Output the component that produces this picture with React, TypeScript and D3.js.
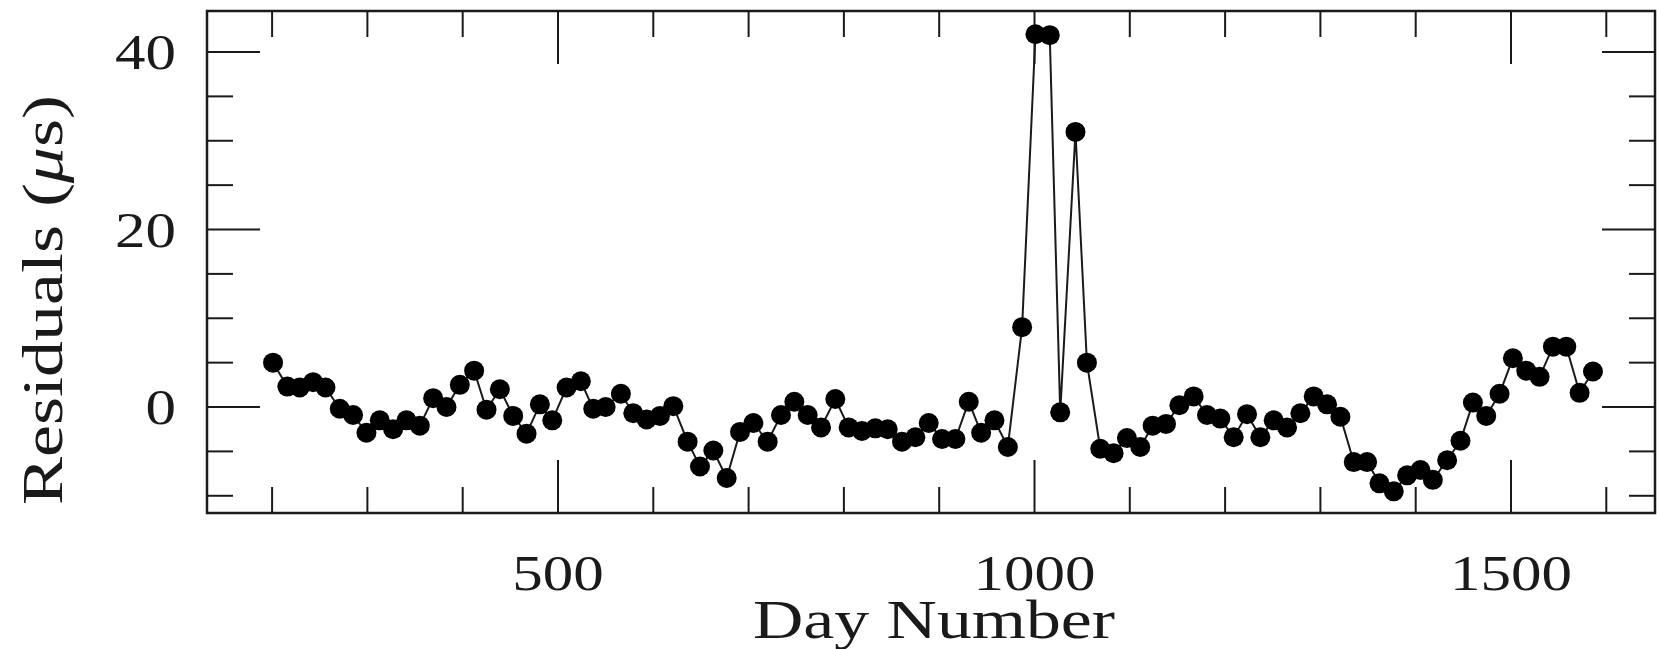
import React from "react";
import * as d3 from "d3";

// Sampled timing residuals: observation day and residual in microseconds
const days: number[] = [
  201, 216, 229, 243, 256, 271, 285, 299, 313, 327,
  341, 355, 369, 383, 397, 412, 425, 439, 453, 467,
  481, 494, 509, 524, 537, 550, 566, 579, 593, 607,
  621, 636, 649, 663, 677, 691, 705, 720, 734, 748,
  762, 776, 791, 805, 819, 833, 846, 861, 875, 889,
  903, 917, 931, 944, 958, 972, 987, 1001, 1016, 1027,
  1043, 1055, 1069, 1083, 1097, 1111, 1124, 1138, 1152, 1167,
  1181, 1195, 1209, 1223, 1237, 1251, 1265, 1279, 1293, 1307,
  1321, 1335, 1349, 1362, 1377, 1391, 1405, 1418, 1433, 1447,
  1460, 1474, 1488, 1502, 1516, 1530, 1544, 1558, 1572, 1586,
];

const residuals: number[] = [
  5.0, 2.3, 2.2, 2.8, 2.2, -0.2, -0.9, -2.9, -1.5, -2.5,
  -1.5, -2.1, 1.0, 0.0, 2.5, 4.1, -0.3, 2.0, -1.0, -3.0,
  0.3, -1.5, 2.2, 2.9, -0.2, 0.0, 1.5, -0.7, -1.4, -1.0,
  0.1, -3.9, -6.7, -4.9, -8.0, -2.8, -1.8, -3.9, -0.9, 0.6,
  -0.9, -2.3, 0.9, -2.3, -2.7, -2.4, -2.5, -3.9, -3.4, -1.8,
  -3.6, -3.6, 0.6, -2.9, -1.5, -4.5, 9.0, 42.0, 41.9, -0.6,
  31.0, 5.0, -4.7, -5.2, -3.5, -4.5, -2.1, -1.9, 0.2, 1.2,
  -0.9, -1.3, -3.4, -0.8, -3.4, -1.5, -2.3, -0.7, 1.2, 0.3,
  -1.1, -6.2, -6.2, -8.6, -9.5, -7.7, -7.1, -8.2, -6.0, -3.8,
  0.5, -1.0, 1.5, 5.5, 4.1, 3.4, 6.8, 6.8, 1.6, 4.0,
];

// Axis ticks
const xMinorTicks: number[] = [200, 300, 400, 500, 600, 700, 800, 900, 1000, 1100, 1200, 1300, 1400, 1500, 1600];
const xMajorTicks: number[] = [500, 1000, 1500];
const yMinorTicks: number[] = [-10, -5, 0, 5, 10, 15, 20, 25, 30, 35, 40];
const yMajorTicks: number[] = [0, 20, 40];

const xTitle = "Day Number";

const W = 1657;
const H = 649;
const plot = { left: 207, right: 1655, top: 11, bottom: 513 };
const MAJOR = 53;
const MINOR = 26;
const FONT = "'Liberation Serif', 'Times New Roman', serif";
const INK = "#1a1a1a";

export default function App() {
  const x = d3.scaleLinear().domain([131.7, 1651.1]).range([plot.left, plot.right]);
  const y = d3.scaleLinear().domain([-11.94, 44.62]).range([plot.bottom, plot.top]);

  const pts = days.map((d, i) => [d, residuals[i]] as [number, number]);
  const line = d3
    .line<[number, number]>()
    .x((p) => x(p[0]))
    .y((p) => y(p[1]));

  const isMajorX = (t: number) => xMajorTicks.includes(t);
  const isMajorY = (t: number) => yMajorTicks.includes(t);

  return (
    <svg
      width={W}
      height={H}
      viewBox={`0 0 ${W} ${H}`}
      style={{ position: "absolute", left: 0, top: 0, background: "#fff" }}
    >
      <rect x={0} y={0} width={W} height={H} fill="#fff" />

      {/* frame */}
      <rect
        x={plot.left}
        y={plot.top}
        width={plot.right - plot.left}
        height={plot.bottom - plot.top}
        fill="none"
        stroke={INK}
        strokeWidth={2.5}
      />

      {/* ticks on all four sides */}
      <g stroke={INK} strokeWidth={2}>
        {xMinorTicks.map((t) => {
          const len = isMajorX(t) ? MAJOR : MINOR;
          const px = x(t);
          return (
            <g key={`xt${t}`}>
              <line x1={px} x2={px} y1={plot.bottom} y2={plot.bottom - len} />
              <line x1={px} x2={px} y1={plot.top} y2={plot.top + len} />
            </g>
          );
        })}
        {yMinorTicks.map((t) => {
          const len = isMajorY(t) ? MAJOR : MINOR;
          const py = y(t);
          return (
            <g key={`yt${t}`}>
              <line x1={plot.left} x2={plot.left + len} y1={py} y2={py} />
              <line x1={plot.right} x2={plot.right - len} y1={py} y2={py} />
            </g>
          );
        })}
      </g>

      {/* tick labels */}
      <g fontFamily={FONT} fontSize={50} fill={INK}>
        {xMajorTicks.map((t) => (
          <text
            key={`xl${t}`}
            x={x(t)}
            y={590}
            textAnchor="middle"
            textLength={String(t).length * 30.5}
            lengthAdjust="spacingAndGlyphs"
          >
            {t}
          </text>
        ))}
        {yMajorTicks.map((t) => (
          <text
            key={`yl${t}`}
            x={176}
            y={y(t) + 17}
            textAnchor="end"
            textLength={String(t).length * 30.5}
            lengthAdjust="spacingAndGlyphs"
          >
            {t}
          </text>
        ))}
      </g>

      {/* axis titles */}
      <text
        x={934}
        y={638}
        textAnchor="middle"
        fontFamily={FONT}
        fontSize={54}
        fill={INK}
        textLength={362}
        lengthAdjust="spacingAndGlyphs"
      >
        {xTitle}
      </text>
      <text
        transform="translate(62, 300) rotate(-90)"
        textAnchor="middle"
        fontFamily={FONT}
        fontSize={56}
        fill={INK}
        textLength={410}
        lengthAdjust="spacingAndGlyphs"
      >
        Residuals (<tspan fontStyle="italic">μ</tspan>s)
      </text>

      {/* series */}
      <path d={line(pts) ?? ""} fill="none" stroke={INK} strokeWidth={2} />
      <g fill="#000">
        {pts.map((p, i) => (
          <circle key={i} cx={x(p[0])} cy={y(p[1])} r={10} />
        ))}
      </g>
    </svg>
  );
}
